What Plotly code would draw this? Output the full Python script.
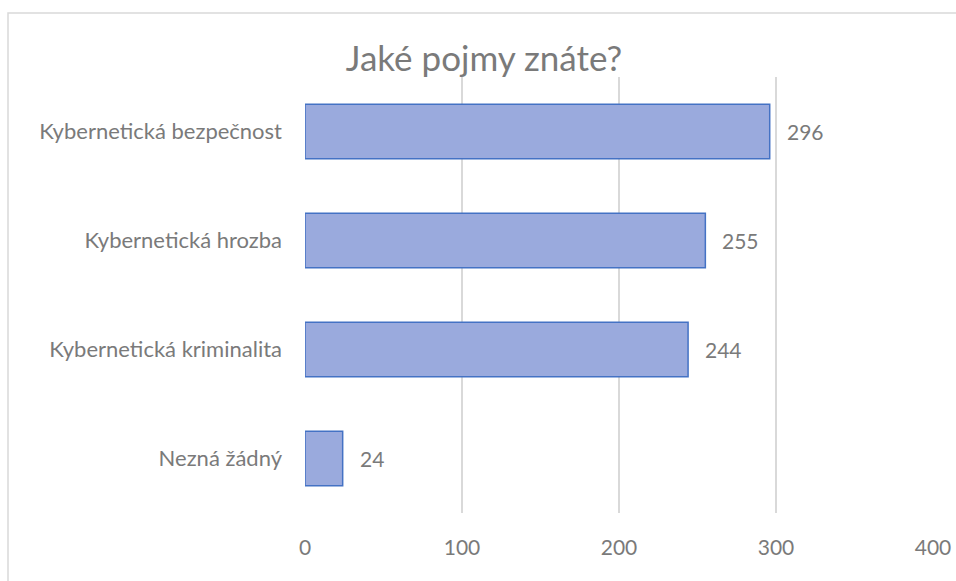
import plotly.graph_objects as go

categories = ["Kybernetická bezpečnost", "Kybernetická hrozba", "Kybernetická kriminalita", "Nezná žádný"]
values = [296, 255, 244, 24]
x_ticks = [0, 100, 200, 300, 400]
title_text = "Jaké pojmy znáte?"

FONT = "Lato, Open Sans, sans-serif"
GRAY = "#7a7a7a"

W, H = 956, 581
L, R, T, B = 305, 23, 77, 68
pw, ph = W - L - R, H - T - B

fig = go.Figure()
fig.add_trace(go.Bar(
    x=values, y=categories, orientation="h", width=0.5,
    marker=dict(color="#9aaadd", line=dict(color="#4472c4", width=1.5)),
    hoverinfo="x+y",
))

for c, v in zip(categories, values):
    fig.add_annotation(x=v, y=c, text=str(v), showarrow=False, xanchor="left",
                       xshift=15, font=dict(family=FONT, size=21, color=GRAY))

fig.add_shape(type="rect", xref="paper", yref="paper",
              x0=(8 - L) / pw, x1=(W + 20 - L) / pw,
              y0=(H - B - (H + 20)) / ph, y1=(H - B - 13) / ph,
              line=dict(color="#d9d9d9", width=1.5), fillcolor="rgba(0,0,0,0)", layer="below")

fig.update_layout(
    width=W, height=H,
    margin=dict(l=L, r=R, t=T, b=B, autoexpand=False),
    paper_bgcolor="white", plot_bgcolor="white",
    title=dict(text=title_text, x=484 / W, xanchor="center", y=1 - 59 / H, yanchor="middle",
               font=dict(family=FONT, size=35, color=GRAY)),
    xaxis=dict(range=[0, 400], tickvals=x_ticks, showgrid=True, gridcolor="#d9d9d9", gridwidth=1.5,
               zeroline=False, showline=False, ticks="", ticklabelstandoff=20,
               tickfont=dict(family=FONT, size=21, color=GRAY), fixedrange=True),
    yaxis=dict(categoryorder="array", categoryarray=categories, autorange="reversed",
               showgrid=False, zeroline=False, showline=False, ticks="", ticklabelstandoff=22,
               tickfont=dict(family=FONT, size=22, color=GRAY)),
    showlegend=False,
    bargap=0.5,
)

fig.write_html("out.html", config={"displayModeBar": False}, post_script=(
    "document.body.style.margin='0';"
    "document.documentElement.style.overflow='hidden';"
    "document.body.style.overflow='hidden';"
))
